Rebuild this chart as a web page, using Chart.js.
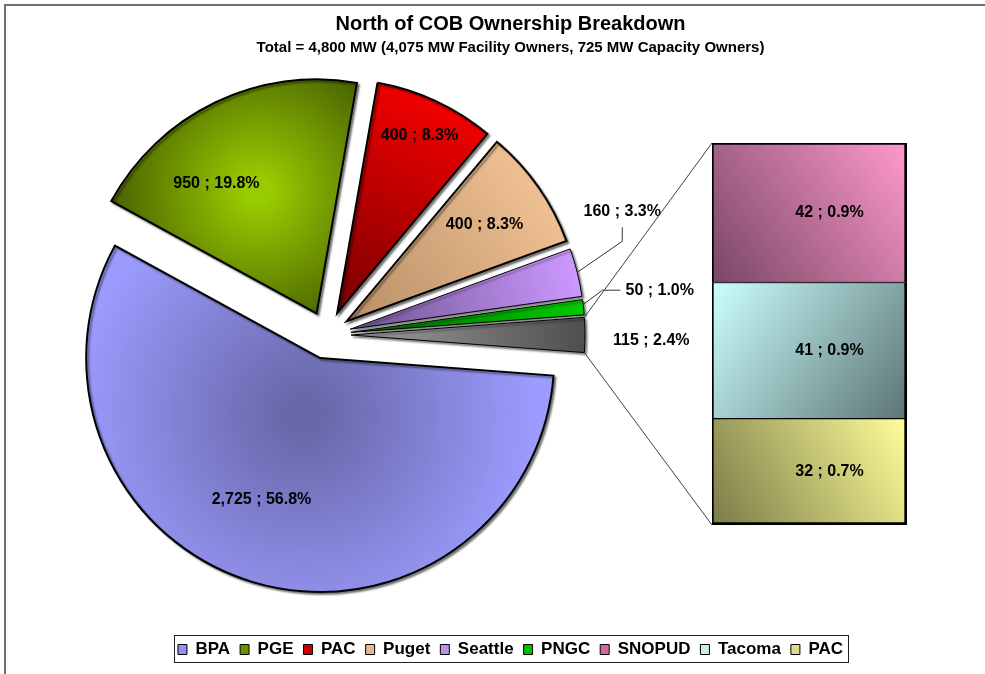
<!DOCTYPE html>
<html>
<head>
<meta charset="utf-8">
<title>North of COB Ownership Breakdown</title>
<script src="https://cdn.jsdelivr.net/npm/chart.js@4.4.1/dist/chart.umd.min.js"></script>
<style>
  html, body { margin: 0; padding: 0; background: #fff; }
  #wrap { position: relative; width: 985px; height: 674px; overflow: hidden; }
  #wrap canvas { position: absolute; left: 0; top: 0; }
</style>
</head>
<body>
<div id="wrap">
  <canvas id="pie" width="985" height="674"></canvas>
  <canvas id="bar" width="985" height="674"></canvas>
</div>
<script>
// facility owners in the main pie (MW)
const pieNames = ['BPA', 'PGE', 'PAC', 'Puget', 'Seattle', 'PNGC'];
const pieValues = [2725, 950, 400, 400, 160, 50];
// capacity owners broken out in the bar, top to bottom (MW)
const barNames = ['SNOPUD', 'Tacoma', 'PAC'];
const barValues = [42, 41, 32];

const titleText = 'North of COB Ownership Breakdown';
const subtitleText = 'Total = 4,800 MW (4,075 MW Facility Owners, 725 MW Capacity Owners)';

const other = barValues.reduce((s, v) => s + v, 0);
const sliceValues = pieValues.concat([other]);
const total = sliceValues.reduce((s, v) => s + v, 0);

const FONT = "'Liberation Sans', Arial, sans-serif";
const R = 234;        // pie radius
const EXPLODE = 24;   // every slice is pulled out this far
const ROTATION = 90 + other / total * 180;   // "other" slice centred on the right

// legend swatches (flat colours)
const legendColors = ['#8f8ff0', '#6b9200', '#cc0000', '#eab88a', '#bb90ee', '#00bb00', '#cc6c9c', '#c8eeee', '#dcdc8c'];

// slice shading
const pieShade = [
  { type: 'radial', at: 0.25, spread: 1.0, inner: '#6868aa', outer: '#9c9cff' },
  { type: 'radial', at: 0.58, spread: 0.62, inner: '#99cc00', outer: '#4a6300' },
  { type: 'linear', light: '#f20000', dark: '#780000' },
  { type: 'linear', light: '#efc093', dark: '#b88f66' },
  { type: 'linear', light: '#cc99ff', dark: '#6c5290' },
  { type: 'linear', light: '#00cc00', dark: '#006400' },
  { type: 'linear', light: '#4e4e4e', dark: '#a0a0a0' }
];
const barShade = [
  { from: 'tr', light: '#ff99cc', dark: '#784664' },
  { from: 'tl', light: '#ccffff', dark: '#5c7474' },
  { from: 'tr', light: '#ffff99', dark: '#7a7a48' }
];

// label placement: inside (fraction of radius, angle tweak in deg) or outside (offset from the slice edge)
const pieLabelSpot = [
  { r: 0.655, da: 6 },
  { r: 0.70, da: -12 },
  { r: 0.835, da: 0 },
  { r: 0.72, da: 0 },
  { dx: 45, dy: -61, align: 'center', leader: [[0, 0], [45, -31], [45, -45]] },
  { dx: 42, dy: -17, align: 'left', leader: [[0, -3], [19, -17], [37, -17]] },
  { dx: 28, dy: 6, align: 'left' }
];

function fmt(v) {
  const pct = (Math.round(v * 1000 / total) / 10).toFixed(1);
  return v.toLocaleString('en-US') + ' ; ' + pct + '%';
}

function sliceGeom(area, i) {
  const cx = (area.left + area.right) / 2;
  const cy = (area.top + area.bottom) / 2;
  let start = ROTATION * Math.PI / 180 - Math.PI / 2;
  for (let k = 0; k < i; k++) start += sliceValues[k] / total * Math.PI * 2;
  const end = start + sliceValues[i] / total * Math.PI * 2;
  return { cx, cy, start, end, mid: (start + end) / 2 };
}

function pieFill(c) {
  const chart = c.chart, area = chart.chartArea, i = c.dataIndex;
  if (!area) return legendColors[0];
  const g = sliceGeom(area, i);
  const s = pieShade[i];
  const ctx = chart.ctx;
  if (s.type === 'radial') {
    const x = g.cx + Math.cos(g.mid) * R * s.at;
    const y = g.cy + Math.sin(g.mid) * R * s.at;
    const grad = ctx.createRadialGradient(x, y, 0, x, y, R * s.spread);
    grad.addColorStop(0.08, s.inner);
    grad.addColorStop(1, s.outer);
    return grad;
  }
  const ox = g.cx + Math.cos(g.mid) * R, oy = g.cy + Math.sin(g.mid) * R;
  const grad = ctx.createLinearGradient(ox, oy, g.cx, g.cy);
  grad.addColorStop(0, s.light);
  grad.addColorStop(1, s.dark);
  return grad;
}

const framePlugin = {
  id: 'frame',
  beforeDraw(chart) {
    const ctx = chart.ctx;
    ctx.save();
    ctx.fillStyle = '#fff';
    ctx.fillRect(0, 0, chart.width, chart.height);
    ctx.strokeStyle = '#707070';
    ctx.lineWidth = 2;
    ctx.strokeRect(5, 5, chart.width + 20, chart.height + 20);
    ctx.restore();
  }
};

// draw every slice pulled out along its middle angle
const explodePlugin = {
  id: 'explode',
  beforeDatasetDraw(chart, args) {
    const ctx = chart.ctx;
    args.meta.data.forEach(arc => {
      const mid = (arc.startAngle + arc.endAngle) / 2;
      ctx.save();
      ctx.translate(Math.cos(mid) * EXPLODE, Math.sin(mid) * EXPLODE);
      ctx.shadowColor = 'rgba(0,0,0,0.45)';
      ctx.shadowBlur = 2;
      ctx.shadowOffsetX = 2;
      ctx.shadowOffsetY = 2;
      arc.draw(ctx);
      ctx.restore();
    });
    return false;
  }
};

const pieLabelPlugin = {
  id: 'pieLabels',
  afterDatasetsDraw(chart) {
    const ctx = chart.ctx;
    ctx.save();
    ctx.font = 'bold 16px ' + FONT;
    ctx.fillStyle = '#000';
    ctx.textBaseline = 'middle';
    chart.getDatasetMeta(0).data.forEach((arc, i) => {
      const mid = (arc.startAngle + arc.endAngle) / 2;
      const vx = arc.x + Math.cos(mid) * EXPLODE;
      const vy = arc.y + Math.sin(mid) * EXPLODE;
      const spot = pieLabelSpot[i];
      const text = fmt(sliceValues[i]);
      if (spot.r !== undefined) {
        const a = mid + spot.da * Math.PI / 180;
        ctx.textAlign = 'center';
        ctx.fillText(text, vx + Math.cos(a) * R * spot.r, vy + Math.sin(a) * R * spot.r);
        return;
      }
      const ex = vx + Math.cos(mid) * R, ey = vy + Math.sin(mid) * R;
      if (spot.leader) {
        ctx.beginPath();
        spot.leader.forEach((p, k) => {
          if (k === 0) ctx.moveTo(ex + p[0], ey + p[1]);
          else ctx.lineTo(ex + p[0], ey + p[1]);
        });
        ctx.strokeStyle = '#333';
        ctx.lineWidth = 1;
        ctx.stroke();
      }
      ctx.textAlign = spot.align;
      ctx.fillText(text, ex + spot.dx, ey + spot.dy);
    });
    ctx.restore();
  }
};

const pieChart = new Chart(document.getElementById('pie'), {
  type: 'pie',
  data: {
    labels: pieNames.concat(['Other']),
    datasets: [{
      data: sliceValues,
      backgroundColor: pieFill,
      borderColor: '#000',
      borderWidth: [2, 2, 2, 2, 1, 1, 1],
      borderJoinStyle: 'miter'
    }]
  },
  options: {
    responsive: false,
    animation: false,
    events: [],
    rotation: ROTATION,
    radius: R,
    layout: { padding: { left: 0, right: 331, top: 0, bottom: 4 } },
    plugins: {
      legend: { display: false },
      title: { display: false },
      tooltip: { enabled: false }
    }
  },
  plugins: [framePlugin, explodePlugin, pieLabelPlugin]
});

// ---- the bar holding the "other" slice ----
function barFill(c) {
  const chart = c.chart, area = chart.chartArea;
  const k = barNames.length - 1 - c.datasetIndex;
  if (!area) return legendColors[pieNames.length + k];
  const y = chart.scales.y;
  const below = barValues.slice(k + 1).reduce((s, v) => s + v, 0);
  const top = y.getPixelForValue(below + barValues[k]);
  const bottom = y.getPixelForValue(below);
  const s = barShade[k];
  const x0 = s.from === 'tr' ? area.right : area.left;
  const x1 = s.from === 'tr' ? area.left : area.right;
  const grad = chart.ctx.createLinearGradient(x0, top, x1, bottom);
  grad.addColorStop(0, s.light);
  grad.addColorStop(1, s.dark);
  return grad;
}

const barDatasets = [];
for (let k = barNames.length - 1; k >= 0; k--) {
  barDatasets.push({
    label: barNames[k],
    data: [barValues[k]],
    backgroundColor: barFill,
    borderColor: '#000',
    borderWidth: { top: k === 0 ? 2 : 1, bottom: k === barNames.length - 1 ? 3 : 1, left: 2, right: 3 },
    borderSkipped: false,
    barPercentage: 1,
    categoryPercentage: 1
  });
}

const barExtras = {
  id: 'barExtras',
  afterDatasetsDraw(chart) {
    const ctx = chart.ctx;
    ctx.save();
    // value labels
    ctx.font = 'bold 16px ' + FONT;
    ctx.fillStyle = '#000';
    ctx.textAlign = 'center';
    ctx.textBaseline = 'middle';
    chart.data.datasets.forEach((ds, d) => {
      const el = chart.getDatasetMeta(d).data[0];
      ctx.fillText(fmt(ds.data[0]), el.x + 20, (el.y + el.base) / 2);
    });
    // connector lines from the "other" slice to the bar
    const pm = pieChart.getDatasetMeta(0);
    const g = pm.data[pm.data.length - 1];
    const mid = (g.startAngle + g.endAngle) / 2;
    const ox = g.x + Math.cos(mid) * EXPLODE, oy = g.y + Math.sin(mid) * EXPLODE;
    const topEl = chart.getDatasetMeta(chart.data.datasets.length - 1).data[0];
    const botEl = chart.getDatasetMeta(0).data[0];
    const left = topEl.x - topEl.width / 2;
    ctx.strokeStyle = '#404040';
    ctx.lineWidth = 1;
    ctx.beginPath();
    ctx.moveTo(ox + Math.cos(g.startAngle) * R, oy + Math.sin(g.startAngle) * R);
    ctx.lineTo(left, topEl.y);
    ctx.moveTo(ox + Math.cos(g.endAngle) * R, oy + Math.sin(g.endAngle) * R);
    ctx.lineTo(left, botEl.base);
    ctx.stroke();
    ctx.restore();
  },
  afterDraw(chart) {
    // box round the legend
    const hb = chart.legend.legendHitBoxes;
    if (!hb || !hb.length) return;
    const a = hb[0], b = hb[hb.length - 1];
    const ctx = chart.ctx;
    ctx.save();
    ctx.strokeStyle = '#202020';
    ctx.lineWidth = 1;
    ctx.strokeRect(Math.round(a.left - 4) + 0.5, Math.round(a.top - 6) + 0.5,
      Math.round(b.left + b.width - a.left + 9), Math.round(a.height + 10));
    ctx.restore();
  }
};

const legendNames = pieNames.concat(barNames);

const barChart = new Chart(document.getElementById('bar'), {
  type: 'bar',
  data: { labels: ['Other'], datasets: barDatasets },
  options: {
    responsive: false,
    animation: false,
    events: [],
    layout: { padding: { left: 114, right: 78, top: 0, bottom: 6 } },
    scales: {
      x: {
        stacked: true,
        grid: { display: false }, border: { display: false }, ticks: { display: false },
        afterFit(s) { s.height = 106; }
      },
      y: {
        stacked: true, min: 0, max: other,
        grid: { display: false }, border: { display: false }, ticks: { display: false },
        afterFit(s) { s.width = 598; }
      }
    },
    plugins: {
      title: {
        display: true, text: titleText, color: '#000',
        font: { family: FONT, size: 20, weight: 'bold', lineHeight: 1.2 },
        padding: { top: 12.5, bottom: 0 }
      },
      subtitle: {
        display: true, text: subtitleText, color: '#000',
        font: { family: FONT, size: 15, weight: 'bold', lineHeight: 1.2 },
        padding: { top: 2, bottom: 86.5 }
      },
      legend: {
        position: 'bottom',
        onClick: null,
        labels: {
          color: '#000',
          font: { family: FONT, size: 17, weight: 'bold' },
          boxWidth: 9, boxHeight: 10, padding: 10,
          generateLabels: () => legendNames.map((t, i) => ({
            text: t, fillStyle: legendColors[i], strokeStyle: '#000', lineWidth: 1, hidden: false, datasetIndex: 0
          }))
        }
      },
      tooltip: { enabled: false }
    }
  },
  plugins: [barExtras]
});
</script>
</body>
</html>
